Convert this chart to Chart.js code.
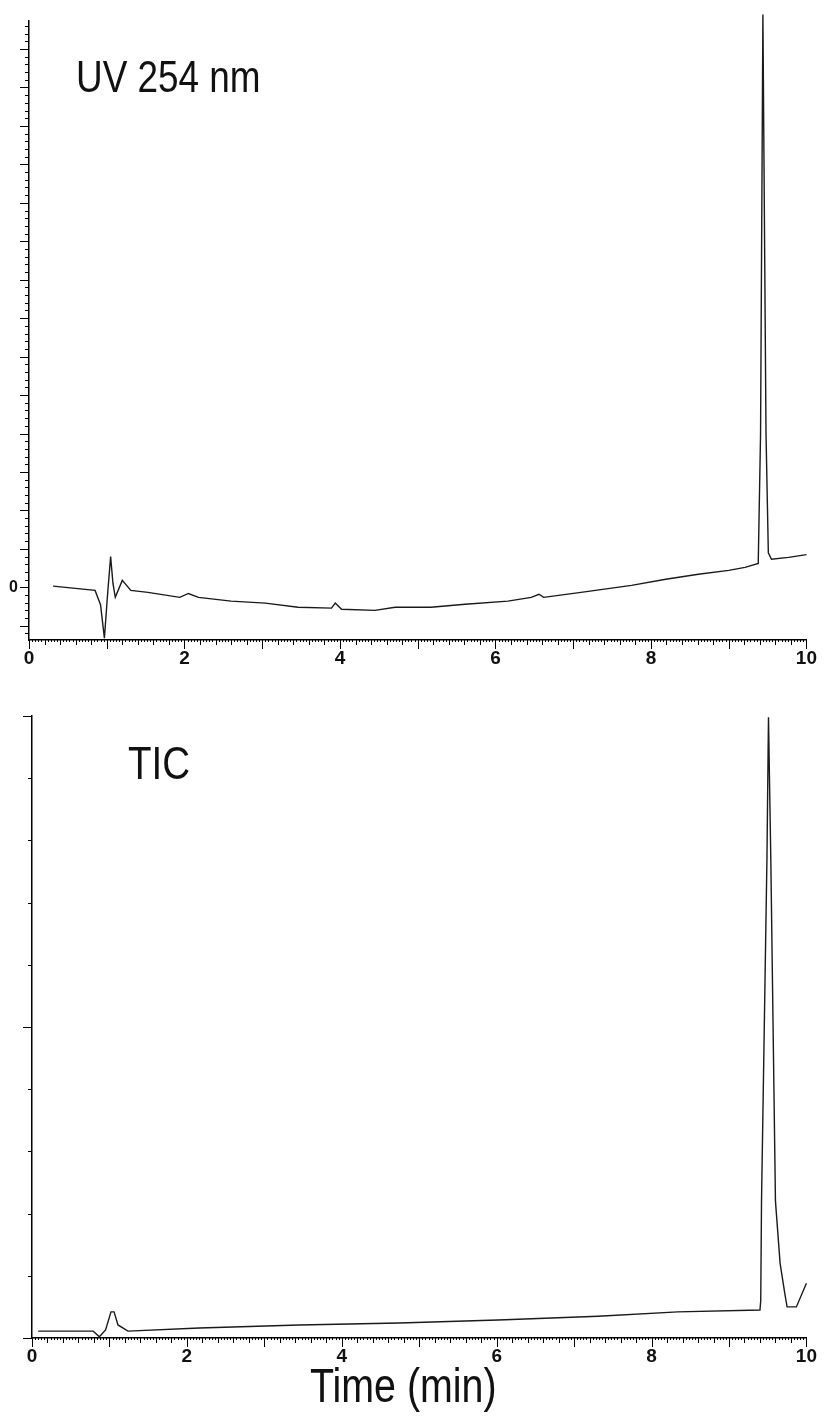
<!DOCTYPE html>
<html>
<head>
<meta charset="utf-8">
<script src="https://cdn.jsdelivr.net/npm/chart.js@4.4.1/dist/chart.umd.min.js"></script>
<style>
  body { margin: 0; background: #fff; width: 824px; height: 1419px; position: relative; overflow: hidden; }
  .box { position: absolute; left: 0; width: 824px; }
  .lbl { position: absolute; font-family: 'Liberation Sans', Arial, sans-serif; color: #111; white-space: nowrap; line-height: 1;
         transform: scaleX(0.82); transform-origin: left top; }
</style>
</head>
<body>
<div class="box" style="top:0;height:680px"><canvas id="uvChart"></canvas></div>
<div class="box" style="top:680px;height:739px"><canvas id="ticChart"></canvas></div>
<div class="lbl" style="left:76px;top:54px;font-size:45px">UV 254 nm</div>
<div class="lbl" style="left:128px;top:739px;font-size:47px">TIC</div>
<div class="lbl" style="left:310px;top:1362px;font-size:48px">Time (min)</div>

<script>
// UV 254 nm trace (time in min, absorbance in arbitrary units)
const uvTime = [0.31, 0.85, 0.92, 0.97, 1.01, 1.05, 1.08, 1.11, 1.20, 1.31, 1.53, 1.94, 2.05, 2.18,
  2.60, 3.04, 3.46, 3.89, 3.94, 4.02, 4.45, 4.71, 5.17, 5.61, 6.16, 6.46, 6.56, 6.62, 7.10,
  7.75, 8.19, 8.61, 9.00, 9.21, 9.38, 9.41, 9.44, 9.48, 9.51, 9.55, 9.77, 10.0];
const uvValue = [0.03, -0.08, -0.45, -1.32, -0.2, 0.80, 0.1, -0.26, 0.18, -0.08, -0.13, -0.26, -0.16, -0.26,
  -0.36, -0.41, -0.52, -0.54, -0.41, -0.57, -0.60, -0.52, -0.52, -0.44, -0.36, -0.26, -0.18, -0.26, -0.13,
  0.05, 0.21, 0.34, 0.44, 0.52, 0.62, 4.0, 14.9, 4.0, 0.9, 0.73, 0.78, 0.85];

// TIC trace (time in min, counts in arbitrary units)
const ticTime = [0.08, 0.79, 0.87, 0.95, 1.02, 1.06, 1.11, 1.24, 2.16, 3.45, 4.74, 6.02, 7.31,
  8.34, 9.40, 9.41, 9.42, 9.49, 9.51, 9.54, 9.60, 9.66, 9.72, 9.75, 9.87, 10.0];
const ticValue = [0.11, 0.11, 0.02, 0.13, 0.42, 0.42, 0.21, 0.11, 0.16, 0.21, 0.24, 0.29, 0.35,
  0.42, 0.45, 0.6, 2.2, 7.7, 9.98, 7.7, 2.2, 1.2, 0.72, 0.5, 0.5, 0.88];

const xTickLabels = [0, 2, 4, 6, 8, 10];

// minor / major tick marks drawn along the two axes
const axisTicks = {
  id: 'axisTicks',
  afterDraw(chart, args, opts) {
    const { ctx, chartArea, scales: { x, y } } = chart;
    ctx.save();
    ctx.strokeStyle = '#000';
    ctx.lineWidth = 1;
    ctx.beginPath();
    const bottom = chartArea.bottom, left = chartArea.left;
    // x axis: tiny every 0.04, minor 0.2, major 1
    for (let i = 0; i <= 250; i++) {
      const px = Math.round(x.getPixelForValue(i * 0.04)) + 0.5;
      const len = i % 25 === 0 ? 9 : (i % 5 === 0 ? 5 : 2);
      ctx.moveTo(px, bottom);
      ctx.lineTo(px, bottom + len);
    }
    // y axis
    const n0 = Math.ceil(y.min / opts.yStep - 1e-6), n1 = Math.floor(y.max / opts.yStep + 1e-6);
    for (let i = n0; i <= n1; i++) {
      const py = Math.round(y.getPixelForValue(i * opts.yStep)) + 0.5;
      const len = i % opts.yMajorEvery === 0 ? 9 : (i % opts.yMinorEvery === 0 ? 4 : 2);
      ctx.moveTo(left, py);
      ctx.lineTo(left - len, py);
    }
    ctx.stroke();
    ctx.restore();
  }
};

function makeChart(id, times, values, yMin, yMax, pad, yWidth, xHeight, tickOpts, yLabelZero) {
  const ctx = document.getElementById(id).getContext('2d');
  return new Chart(ctx, {
    type: 'line',
    data: {
      datasets: [{
        data: times.map((t, i) => ({ x: t, y: values[i] })),
        borderColor: '#1a1a1a',
        borderWidth: 1.4,
        pointRadius: 0,
        tension: 0,
        clip: false
      }]
    },
    options: {
      responsive: true,
      maintainAspectRatio: false,
      animation: false,
      devicePixelRatio: 1,
      layout: { padding: pad },
      plugins: { legend: { display: false }, tooltip: { enabled: false }, axisTicks: tickOpts },
      scales: {
        x: {
          type: 'linear', min: 0, max: 10,
          afterFit: s => { s.height = xHeight; },
          afterBuildTicks: s => { s.ticks = xTickLabels.map(v => ({ value: v })); },
          grid: { display: false, drawTicks: false },
          border: { display: true, color: '#000', width: 1.5 },
          ticks: { padding: 7, color: '#111', font: { family: 'Liberation Sans', size: 19, weight: 'bold' }, maxRotation: 0 }
        },
        y: {
          min: yMin, max: yMax,
          afterFit: s => { s.width = yWidth; },
          afterBuildTicks: s => { s.ticks = yLabelZero ? [{ value: 0 }] : []; },
          grid: { display: false, drawTicks: false },
          border: { display: true, color: '#000', width: 1.5 },
          ticks: { display: yLabelZero, padding: 11, color: '#111', font: { family: 'Liberation Sans', size: 16, weight: 'bold' } }
        }
      }
    },
    plugins: [axisTicks]
  });
}

makeChart('uvChart', uvTime, uvValue, -1.37, 14.74,
  { left: 0, top: 18, right: 16, bottom: 0 }, 29, 40,
  { yStep: 0.2, yMajorEvery: 5, yMinorEvery: 1 }, true);

makeChart('ticChart', ticTime, ticValue, 0, 10,
  { left: 0, top: 36, right: 15, bottom: 0 }, 32, 81,
  { yStep: 1, yMajorEvery: 5, yMinorEvery: 1 }, false);
</script>
</body>
</html>
